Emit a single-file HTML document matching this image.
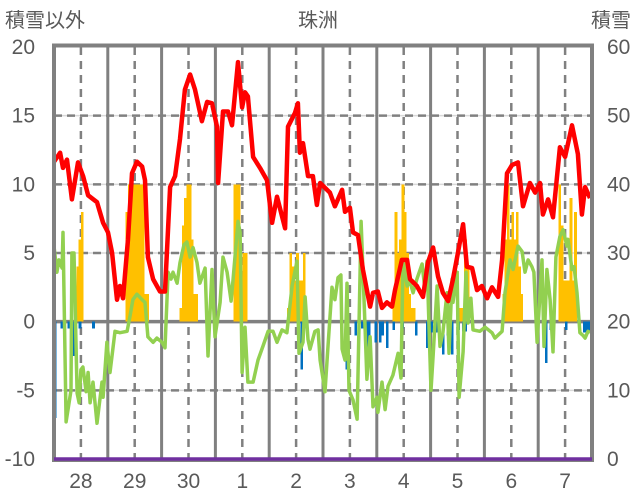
<!DOCTYPE html>
<html><head><meta charset="utf-8">
<style>
html,body{margin:0;padding:0;background:#fff;}
svg{display:block;font-family:"Liberation Sans","Noto Sans CJK JP",sans-serif;}
</style></head>
<body>
<svg id="chart" width="636" height="501" viewBox="0 0 636 501" xmlns="http://www.w3.org/2000/svg">
<text x="5" y="27" font-size="20" fill="#595959">積雪以外</text>
<text x="318" y="27" font-size="20" fill="#595959" text-anchor="middle">珠洲</text>
<text x="631" y="27" font-size="20" fill="#595959" text-anchor="end">積雪</text>
<g id="grid"></g>
<g id="bars" shape-rendering="crispEdges"></g>
<g id="lines"></g>
<g id="axes"></g>
</svg>
<script>
const dayLabels = ["28","29","30","1","2","3","4","5","6","7"];
const leftTicks = [20,15,10,5,0,-5,-10];
const rightTicks = [60,50,40,30,20,10,0];
const redH = [0,2.7,4,5.8,8,10.7,13,15.2,19.2,21.9,24.1,25.9,28.1,29.4,30.8,33,34.8,37,39.3,40.6,41.9,44.2,47.3,49.5,51.8,54,56.2,58.4,60.7,62.9,66,68.3,70.5,72.7,73.2,75.4,77.6,79.4,82.1,83.9,85.2,86.5,88.8,91.9,95,97.3,99.5,103.1,104.4,107.5,108.8,109.7,111.1,113.3,115.5,117.3,118.7,123.1,125.3,128.5,129.8,132,133.4,135.6,137.8,141,142.3,144.5,146.3,148.5,150.8,152.1,155.2,157.5,158.8,161.9,164.6,166.8,169.1,171.3,173.5,175.8,178,180.2,182.5,184.2,186.5,188.7,190.9,193.2,195.4,198.1,199.9,202.1,204.3,207,209.2,212.3,214.6,216.8,218.1,220.4,222.6,225.7,228,231.1,233.7,235.5,236.9,239.1];
const redV = [11.65,12.3,11.2,11.8,8.9,11.6,10.6,9.2,8.7,7.2,6.5,5.0,1.6,2.6,1.7,6.0,10.8,11.65,11.3,10.3,4.7,3.1,2.2,2.2,9.8,10.6,13.3,16.9,18.0,16.9,14.6,16.0,15.9,14.2,10.1,15.3,15.3,14.3,18.9,15.6,16.7,16.4,12.0,11.2,10.3,7.2,9.1,6.8,14.2,15.2,15.9,12.3,13.0,10.6,10.6,8.5,10.1,9.4,8.4,9.6,8.0,8.3,6.5,6.3,3.8,1.1,2.1,2.2,1.0,1.4,1.1,2.3,4.5,4.5,3.1,2.6,1.8,4.3,5.4,3.3,2.1,1.5,3.1,5.0,7.1,4.0,3.9,2.3,2.6,1.7,2.5,1.8,4.5,10.8,11.4,11.6,8.4,10.1,9.4,10.1,7.8,8.9,7.6,12.7,12.0,14.3,12.2,7.8,9.8,9.0];
const greenH = [0,1.3,2.2,3.6,4,5.4,7.6,8,8.9,10.3,11.2,12,12.9,14.3,15.2,16.1,17.4,19.2,21.4,21.9,23.6,25,27.2,29.4,32.6,33.9,35.2,37,39.3,40.6,41.9,44.2,45.9,48.2,49.5,50.9,52.2,53.1,54.9,56.2,58,59.3,60.7,62,63.8,65.1,67.4,68.7,70.5,71.8,74.1,75.4,77.2,79,79.9,82.1,83,83.9,85.2,86.5,88.8,91,93.2,95.5,97.7,99.5,101.7,103.9,106.2,108.4,109.3,111.1,112,113.3,114.2,116.4,117.8,118.7,120.9,122.2,124,125.3,126.7,128,128.5,129.8,130.7,131.6,133.4,135.2,137,138.7,139.6,141,142.3,144.1,144.5,146.3,147.7,149,151.2,153.5,154.8,155.7,157.5,158.8,160.2,161.9,164.2,165.5,166.4,168.2,169.1,170.9,172.2,173.5,175.3,176.2,177.6,178,179.8,180.7,182.5,183.8,184.7,186,186.9,190,192.3,195.4,196.7,199.9,201.2,203.4,204.8,207,208.8,210.1,211.5,213.2,214.1,215.5,217.7,218.6,219.9,221.3,222.6,223.9,225.7,227.1,228.8,229.3,231.1,232,233.3,234.6,236,236.9,238.2,239.1];
const greenV = [5.5,3.6,4.5,3.9,6.5,-7.3,-5.0,5.0,5.0,-5.2,-5.9,-3.5,-3.3,-5.1,-3.7,-5.9,-4.4,-7.4,-4.4,-5.5,-1.5,-3.7,-0.7,-0.8,-0.7,0.4,1.6,2.0,1.6,1.4,-1.1,-1.5,-1.2,-1.5,-1.9,3.6,3.1,3.6,2.8,4.3,5.6,5.8,4.7,5.4,4.3,2.8,3.9,-2.5,3.8,-1.1,1.4,4.7,3.6,1.5,3.1,7.3,6.5,-3.7,-0.4,-4.4,-4.4,-2.8,-1.8,-0.7,-0.7,-1.5,-0.6,-0.8,2.6,4.4,-2.3,-1.5,1.8,-1.3,-2.0,-0.7,-0.6,-2.8,-5.1,-1.9,2.5,1.6,3.2,3.4,-2.0,-2.8,2.8,-5.0,-5.7,-7.1,7.3,-0.1,-4.2,-1.1,-6.2,-5.5,-6.6,-4.4,-6.4,-4.7,-3.9,-2.3,-4.1,4.4,2.6,2.9,2.1,3.1,4.2,2.3,4.4,-5.0,-2.5,2.6,-1.8,-0.8,2.1,-2.3,3.1,1.4,3.6,-5.5,-2.2,3.6,-0.1,1.7,-0.6,-0.7,-0.4,-0.8,-1.2,-0.7,2.1,4.5,3.8,5.5,5.1,3.6,4.5,4.0,3.6,-1.5,4.5,-1.8,3.8,1.6,-2.2,4.7,6.2,6.7,5.5,6.0,3.8,4.0,2.1,-0.8,-1.0,-1.2,-0.7,-0.8];
const orangeH = [10,11,12,32,33,34,35,36,37,38,39,40,41,56,57,58,59,60,61,62,63,80,81,82,84,85,104,105,106,107,108,109,110,111,151,152,153,154,155,156,157,158,159,160,180,181,182,183,184,200,201,202,203,204,205,206,207,208,225,226,227,228,229,230,231,232];
const orangeV = [4,6,8,8,10,10,10,10,10,10,10,2,2,1,7,9,10,10,6,2,2,10,10,10,5,5,1,5,4,3,5,3,3,5,2,8,5,6,10,8,5,2,1,1,1,1,1,6,4,2,6,10,6,8,6,8,4,2,10,7,3,3,3,9,3,8];
const blueH = [0,3,6,8,11,17,110,130,134,137,139,140,143,145,146,148,151,155,161,166,168,170,173,175,177,180,182,183,218,219,221,228,236,237,238,239];
const blueV = [-7,-0.5,-0.5,-2.5,-0.5,-0.5,-3.5,-3.5,-1,-0.5,-2.8,-2,-1.5,-1.5,-1,-1.9,-0.6,-0.5,-1,-1.9,-0.8,-0.8,-2.4,-1,-2.4,-0.6,-0.7,-0.7,-1,-3,-0.6,-0.6,-0.8,-0.8,-0.8,-0.8];
const snowH = [0,240];
const snowV = [0,0];

const NS="http://www.w3.org/2000/svg";
const X0=54,X1=592,Y0=47,Y1=459;
function xS(h){return X0+h*(X1-X0)/240;}
function yL(v){return Y1-(v+10)*(Y1-Y0)/30;}
function yR(v){return Y1-v*(Y1-Y0)/60;}
function mk(tag,attrs,parent){const e=document.createElementNS(NS,tag);for(const k in attrs)e.setAttribute(k,attrs[k]);parent.appendChild(e);return e;}
const grid=document.getElementById('grid'),bars=document.getElementById('bars'),lines=document.getElementById('lines'),axes=document.getElementById('axes');

leftTicks.forEach(v=>{
  if(v===20||v===-10||v===0)return;
  const y=yL(v);
  let l=mk('line',{x1:X0,x2:X1,y1:y,y2:y,stroke:'#d9d9d9','stroke-width':1.5},grid);
  
  
  let d=mk('line',{x1:X0,x2:X1,y1:y,y2:y,stroke:'#808080','stroke-width':2.5,'stroke-dasharray':'8,5'},grid);
  
  
});
for(let d=0;d<10;d++){
  const xm=xS(d*24+12);
  let l=mk('line',{x1:xm,x2:xm,y1:Y0,y2:Y1,stroke:'#808080','stroke-width':2.5,'stroke-dasharray':'8,6'},grid);
  
  
  if(d>0){
    const xb=xS(d*24);
    let b=mk('line',{x1:xb,x2:xb,y1:Y0,y2:Y1,stroke:'#808080','stroke-width':3},grid);
    
    
  }
}
const bw=(X1-X0)/240;
orangeH.forEach((h,i)=>{
  const v=orangeV[i];
  let r=mk('rect',{x:xS(h),y:yL(v),width:bw+0.6,height:yL(0)-yL(v),fill:'#FFC000'},bars);
  
  
});
blueH.forEach((h,i)=>{
  const v=blueV[i];
  let r=mk('rect',{x:xS(h),y:yL(0),width:bw+0.4,height:yL(v)-yL(0),fill:'#0070C0'},bars);
  
  
});
let z=mk('line',{x1:X0,x2:X1,y1:yL(0),y2:yL(0),stroke:'#808080','stroke-width':3.5},grid);


function path(H,V,ys){return H.map((h,i)=>(i?'L':'M')+xS(h).toFixed(1)+','+ys(V[i]).toFixed(1)).join(' ');}
let g=mk('path',{d:path(greenH,greenV,yL),fill:'none',stroke:'#92D050','stroke-width':3.5,'stroke-linejoin':'round'},lines);


let r=mk('path',{d:path(redH,redV,yL),fill:'none',stroke:'#FF0000','stroke-width':4.5,'stroke-linejoin':'round'},lines);


let f=mk('rect',{x:X0,y:45.5,width:X1-X0,height:460-45.5,fill:'none',stroke:'#808080','stroke-width':4},axes);


let s=mk('path',{d:path(snowH,snowV,yR),fill:'none',stroke:'#7030A0','stroke-width':3.5},axes);


leftTicks.forEach(v=>{
  let t=mk('text',{x:35,y:yL(v)+7,'font-size':21,fill:'#595959','text-anchor':'end'},axes);
  t.textContent=String(v);
  
  
});
rightTicks.forEach(v=>{
  let t=mk('text',{x:607,y:yR(v)+7,'font-size':21,fill:'#595959'},axes);
  t.textContent=String(v);
  
  
});
dayLabels.forEach((lab,i)=>{
  let t=mk('text',{x:xS(i*24+12),y:488,'font-size':21,fill:'#595959','text-anchor':'middle'},axes);
  t.textContent=lab;
  
  
});
</script>
</body></html>
